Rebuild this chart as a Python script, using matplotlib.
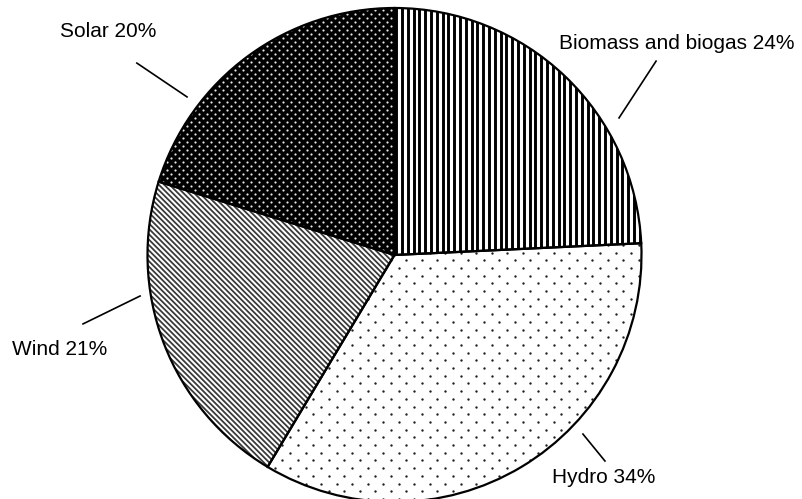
import numpy as np
import matplotlib.pyplot as plt
from matplotlib.collections import LineCollection

plt.rcParams['font.family'] = ['Liberation Sans', 'DejaVu Sans']

# Renewable energy shares
sources = ['Biomass and biogas', 'Hydro', 'Wind', 'Solar']
shares = [24, 34, 21, 20]

# label text centre, leader line start (near pie) and end (near text)
label_pos = {
    'Biomass and biogas': ((1.144, 0.858), (0.909, 0.555), (1.059, 0.785)),
    'Hydro': ((0.848, -0.899), (0.763, -0.725), (0.852, -0.834)),
    'Wind': ((-1.354, -0.381), (-1.030, -0.166), (-1.261, -0.279)),
    'Solar': ((-1.160, 0.903), (-0.840, 0.640), (-1.043, 0.777)),
}

px = 1 / 247.0  # data units per pixel

fig = plt.figure(figsize=(8.03, 4.99), dpi=100)
ax = fig.add_axes([0, 0, 1, 1])

face = ['white', 'white', 'white', 'black']
wedges, _ = ax.pie(shares, startangle=90, counterclock=False, colors=face,
                   wedgeprops=dict(linewidth=0, zorder=1))


def vertical_stripes(w):
    xs = np.arange(-1.05, 1.05, 5.8 * px)
    segs = [[(x, -1.05), (x, 1.05)] for x in xs]
    lc = LineCollection(segs, colors='black', linewidths=2.1, zorder=2)
    lc.set_clip_path(w)
    ax.add_collection(lc)


def diagonal_stripes(w):
    cs = np.arange(-2.2, 2.2, 5.4 * px)
    segs = [[(-1.1, c + 1.1), (1.1, c - 1.1)] for c in cs]
    lc = LineCollection(segs, colors='#3a3a3a', linewidths=1.3, zorder=2)
    lc.set_clip_path(w)
    ax.add_collection(lc)


def dots(w, dx, dy, color, size):
    pts = []
    for i, y in enumerate(np.arange(-1.05, 1.05, dy * px)):
        off = 0 if i % 2 == 0 else dx * px / 2
        for x in np.arange(-1.05 + off, 1.05, dx * px):
            pts.append((x, y))
    pts = np.array(pts)
    sc = ax.scatter(pts[:, 0], pts[:, 1], s=size, c=color, linewidths=0,
                    zorder=2)
    sc.set_clip_path(w)


vertical_stripes(wedges[0])
dots(wedges[1], 15.5, 7.7, '#222222', 3.0)
diagonal_stripes(wedges[2])
dots(wedges[3], 8.0, 4.0, '#e8e8e8', 2.5)

# outlines on top of the fill patterns
ax.pie(shares, startangle=90, counterclock=False, colors=['none'] * 4,
       wedgeprops=dict(linewidth=1.6, edgecolor='black', zorder=3))

for name, val in zip(sources, shares):
    (tx, ty), (x0, y0), (x1, y1) = label_pos[name]
    ax.plot([x0, x1], [y0, y1], color='black', lw=1.2, zorder=4)
    ax.text(tx, ty, f'{name} {val}%', ha='center', va='center', fontsize=15,
            zorder=4)

ax.set_aspect('auto')
ax.set_xlim(-394.5 * px, (803 - 394.5) * px)
ax.set_ylim(-244 * px, 255 * px)
ax.axis('off')

fig.savefig('out.png', dpi=100)
